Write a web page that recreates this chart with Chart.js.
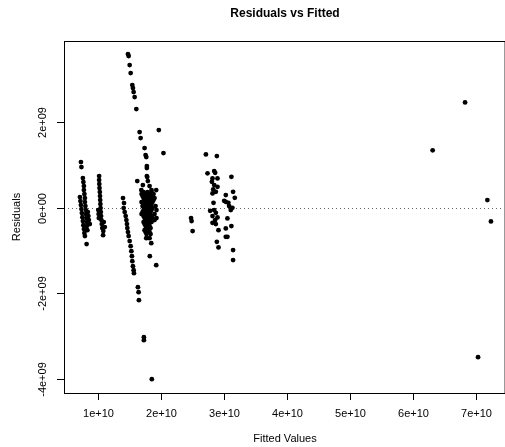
<!DOCTYPE html>
<html>
<head>
<meta charset="utf-8">
<title>Residuals vs Fitted</title>
<script src="https://cdn.jsdelivr.net/npm/chart.js@4.4.1/dist/chart.umd.min.js"></script>
<style>
  html, body { margin: 0; padding: 0; background: #fff; overflow: hidden; }
  canvas { display: block; }
</style>
</head>
<body>
<canvas id="residPlot" width="505" height="447"></canvas>
<script>
// fitted values in units of 1e10, residuals in units of 1e9
const fitted = [
  // first streak
  0.727, 0.735, 0.758, 0.766, 0.774, 0.774, 0.782, 0.790, 0.790, 0.798, 0.806, 0.806, 0.814, 0.821, 0.821, 0.829,
  0.711, 0.719, 0.727, 0.735, 0.742, 0.750, 0.758, 0.766, 0.774, 0.782, 0.790,
  0.837, 0.845, 0.853, 0.868, 0.817,
  // second streak
  1.016, 1.016, 1.019, 1.022, 1.027, 1.030, 1.033, 1.036, 1.039, 1.043, 1.047, 1.052, 1.058, 1.066, 1.082,
  1.106, 1.090, 1.003, 1.008, 1.011, 1.079,
  // falling streak
  1.395, 1.411, 1.406, 1.422, 1.438, 1.449, 1.458, 1.464, 1.474, 1.485, 1.501, 1.517, 1.528, 1.537, 1.543,
  1.553, 1.564, 1.569, 1.632, 1.643, 1.648, 1.727, 1.727, 1.853,
  // rising spike
  1.474, 1.485, 1.501, 1.517, 1.543, 1.553, 1.564, 1.580, 1.607, 1.659, 1.675, 1.738, 1.754, 1.765, 1.774,
  1.774, 1.780, 1.964, 2.038,
  // dense group near 1.8e10
  1.622, 1.686, 1.711, 1.790, 1.774, 1.923, 1.817, 1.848,
  1.690, 1.754, 1.817, 1.880,
  1.722, 1.785, 1.848, 1.896,
  1.690, 1.738, 1.801, 1.864,
  1.706, 1.769, 1.833, 1.912,
  1.722, 1.785, 1.848, 1.927,
  1.690, 1.754, 1.817, 1.896,
  1.738, 1.801, 1.864, 1.927,
  1.722, 1.785, 1.848,
  1.754, 1.817, 1.738, 1.801, 1.769, 1.833, 1.765, 1.817, 1.844, 1.821, 1.923,
  1.722, 1.785, 1.848,
  1.706, 1.769, 1.833,
  1.754, 1.817, 1.880,
  1.722, 1.785, 1.848,
  1.738, 1.801, 1.864,
  1.706, 1.769, 1.833,
  1.722, 1.785, 1.848,
  1.754, 1.817, 1.896,
  1.738, 1.801, 1.769, 1.833, 1.754, 1.817,
  // small group near 2.5e10
  2.476, 2.485, 2.501,
  // group near 3e10
  2.712, 2.886, 2.738, 2.844, 2.859, 3.117, 2.817, 2.896, 2.807, 2.844, 2.828, 2.896, 2.817, 2.870,
  3.144, 3.028, 3.171, 3.002, 3.028, 3.069, 2.833, 3.081, 3.133, 3.107, 2.780, 2.844, 2.870, 2.817,
  2.896, 2.859, 3.054, 2.817, 2.870, 3.028, 3.117, 2.912, 3.028, 3.054, 2.886, 2.912, 3.144, 3.144,
  // far right
  6.314, 6.829, 7.035, 7.183, 7.240
];

const residuals = [
  1.069, 0.952, 0.695, 0.601, 0.508, 0.414, 0.320, 0.227, 0.133, 0.040, -0.054, -0.147, -0.241, -0.334, -0.428, -0.522,
  0.250, 0.157, 0.063, -0.030, -0.124, -0.218, -0.311, -0.405, -0.498, -0.592, -0.662,
  -0.101, -0.194, -0.288, -0.381, -0.849,
  0.742, 0.648, 0.554, 0.461, 0.367, 0.274, 0.180, 0.087, -0.007, -0.101, -0.194, -0.288, -0.381, -0.475, -0.545,
  -0.451, -0.334, -0.054, -0.147, -0.241, -0.639,
  0.227, 0.110, -0.007, -0.101, -0.194, -0.288, -0.381, -0.475, -0.568, -0.662, -0.779, -0.896, -1.013, -1.130, -1.247,
  -1.364, -1.458, -1.528, -1.855, -1.972, -2.160, -3.025, -3.095, -4.007,
  3.595, 3.549, 3.338, 3.151, 2.870, 2.800, 2.706, 2.589, 2.309, 1.771, 1.630, 1.396, 1.232, 1.185, 0.975,
  0.928, 0.718, 1.818, 1.280,
  0.625, 0.414, 0.531, 0.625, 0.742, 0.414, 0.508, 0.414,
  0.320, 0.320, 0.320, 0.320,
  0.227, 0.227, 0.227, 0.227,
  0.133, 0.133, 0.133, 0.133,
  0.040, 0.040, 0.040, 0.040,
  -0.054, -0.054, -0.054, -0.054,
  -0.147, -0.147, -0.147, -0.147,
  -0.241, -0.241, -0.241, -0.241,
  -0.334, -0.334, -0.334,
  -0.428, -0.428, -0.522, -0.522, -0.615, -0.615, -0.709, -0.709, -0.826, -1.130, -1.341,
  0.367, 0.367, 0.367,
  0.274, 0.274, 0.274,
  0.180, 0.180, 0.180,
  0.087, 0.087, 0.087,
  -0.007, -0.007, -0.007,
  -0.101, -0.101, -0.101,
  -0.194, -0.194, -0.194,
  -0.288, -0.288, -0.288,
  -0.381, -0.381, -0.475, -0.475, -0.568, -0.568,
  -0.241, -0.311, -0.545,
  1.249, 1.209, 0.805, 0.858, 0.819, 0.725, 0.688, 0.688, 0.608, 0.531, 0.430, 0.491, 0.337, 0.374,
  0.374, 0.297, 0.234, 0.164, 0.140, 0.117, 0.117, 0.040, 0.000, -0.054, -0.070, -0.054, -0.117, -0.194,
  -0.225, -0.288, -0.248, -0.351, -0.381, -0.482, -0.428, -0.522, -0.678, -0.678, -0.795, -0.926, -0.989, -1.223,
  1.343, 2.465, -3.492, 0.180, -0.318
];

const xTicks = [1, 2, 3, 4, 5, 6, 7];          // x 1e10
const xTickLabels = ['1e+10', '2e+10', '3e+10', '4e+10', '5e+10', '6e+10', '7e+10'];
const yTicks = [2, 0, -2, -4];                 // x 1e9
const yTickLabels = ['2e+09', '0e+00', '-2e+09', '-4e+09'];

const chartTitle = 'Residuals vs Fitted';
const xTitle = 'Fitted Values';
const yTitle = 'Residuals';

const FONT = '"Liberation Sans", Arial, Helvetica, sans-serif';

const points = fitted.map((f, i) => ({ x: f * 1e10, y: residuals[i] * 1e9 }));

// R-style frame, ticks, dotted zero line and titles
const rFrame = {
  id: 'rFrame',
  beforeDatasetsDraw(chart) {
    const { ctx, chartArea: a, scales: { y } } = chart;
    const y0 = Math.round(y.getPixelForValue(0)) + 0.5;
    ctx.save();
    ctx.strokeStyle = '#666';
    ctx.lineWidth = 1;
    ctx.setLineDash([1, 3]);
    ctx.beginPath();
    ctx.moveTo(a.left, y0);
    ctx.lineTo(a.right, y0);
    ctx.stroke();
    ctx.restore();
  },
  afterDatasetsDraw(chart) {
    const { ctx, chartArea: a, scales: { x, y } } = chart;
    ctx.save();
    ctx.strokeStyle = '#000';
    ctx.fillStyle = '#000';
    ctx.lineWidth = 1;

    // box (right side falls outside the canvas like in the reference)
    ctx.strokeRect(a.left + 0.5, a.top + 0.5, a.right - a.left + 2, a.bottom - a.top);

    // x axis
    ctx.font = '11px ' + FONT;
    ctx.textAlign = 'center';
    ctx.textBaseline = 'middle';
    xTicks.forEach((v, i) => {
      const px = Math.round(x.getPixelForValue(v * 1e10)) + 0.5;
      ctx.beginPath();
      ctx.moveTo(px, a.bottom);
      ctx.lineTo(px, a.bottom + 7);
      ctx.stroke();
      ctx.fillText(xTickLabels[i], px, a.bottom + 21);
    });

    // y axis
    yTicks.forEach((v, i) => {
      const py = Math.round(y.getPixelForValue(v * 1e9)) + 0.5;
      ctx.beginPath();
      ctx.moveTo(a.left - 7, py);
      ctx.lineTo(a.left, py);
      ctx.stroke();
      ctx.save();
      ctx.translate(a.left - 21, py);
      ctx.rotate(-Math.PI / 2);
      ctx.fillText(yTickLabels[i], 0, 0);
      ctx.restore();
    });

    // axis titles
    const midX = 285;
    ctx.fillText(xTitle, midX, 439);
    ctx.save();
    ctx.translate(17, (a.top + a.bottom) / 2);
    ctx.rotate(-Math.PI / 2);
    ctx.fillText(yTitle, 0, 0);
    ctx.restore();

    // main title
    ctx.font = 'bold 12px ' + FONT;
    ctx.fillText(chartTitle, midX, 14);
    ctx.restore();
  }
};

new Chart(document.getElementById('residPlot'), {
  type: 'scatter',
  data: {
    datasets: [{
      data: points,
      backgroundColor: '#000',
      borderWidth: 0,
      pointRadius: 2.4,
      pointHoverRadius: 2.4
    }]
  },
  options: {
    responsive: false,
    animation: false,
    layout: { padding: { left: 64, top: 41, right: 0, bottom: 54 } },
    scales: {
      x: { type: 'linear', display: false, min: 0.458e10, max: 7.425e10 },
      y: { type: 'linear', display: false, min: -4.33e9, max: 3.90e9 }
    },
    plugins: {
      legend: { display: false },
      tooltip: { enabled: false }
    }
  },
  plugins: [rFrame]
});
</script>
</body>
</html>
